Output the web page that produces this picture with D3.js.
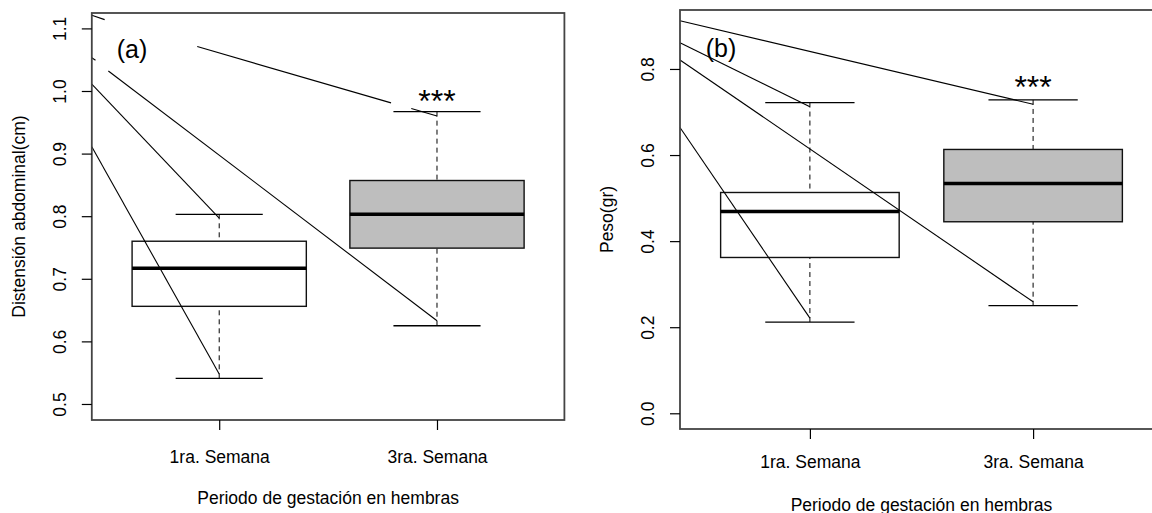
<!DOCTYPE html>
<html>
<head>
<meta charset="utf-8">
<script src="https://cdn.jsdelivr.net/npm/d3@7"></script>
<style>
body { margin: 0; background: #fff; }
text { font-family: "Liberation Sans", Arial, sans-serif; fill: #000; }
</style>
</head>
<body>
<svg id="chart" width="1152" height="513"></svg>
<script>
const groups = ['1ra. Semana', '3ra. Semana'];
const boxFills = ['#ffffff', '#bebebe'];

// min, q1, median, q3, max for each group
const distStats = [
	[0.541, 0.656, 0.717, 0.760, 0.803],
	[0.625, 0.749, 0.803, 0.857, 0.967],
];
const pesoStats = [
	[0.212, 0.362, 0.469, 0.513, 0.722],
	[0.250, 0.445, 0.534, 0.613, 0.728],
];

const distTicks = [0.5, 0.6, 0.7, 0.8, 0.9, 1.0, 1.1];
const pesoTicks = [0.0, 0.2, 0.4, 0.6, 0.8];

// stray lines over the plots, visible pieces as [group position, value]
const distLines = [
	[[[0.415, 0.911], [1, 0.548]]],
	[[[0.415, 1.011], [1, 0.797]]],
	[[[0.415, 1.053], [0.432, 1.049]], [[0.491, 1.032], [2, 0.633]]],
	[[[0.415, 1.121], [0.474, 1.114]], [[0.899, 1.071], [1.789, 0.981]], [[1.882, 0.972], [2, 0.960]]],
];
const pesoLines = [
	[[[0.418, 0.912], [2, 0.718]]],
	[[[0.418, 0.861], [1, 0.712]]],
	[[[0.418, 0.821], [2, 0.259]]],
	[[[0.418, 0.664], [1, 0.221]]],
];

const svg = d3.select('#chart');

function drawPanel(p) {
	const x = d3.scaleLinear().domain(p.xDomain).range([p.left, p.right]);
	const y = d3.scaleLinear().domain(p.yDomain).range([p.bottom, p.top]);
	const g = svg.append('g');

	// boxes
	const box = g.selectAll('.box')
		.data(p.stats)
		.join('g')
		.attr('class', 'box');

	box.append('line') // lower whisker
		.attr('x1', (d, i) => x(i + 1)).attr('x2', (d, i) => x(i + 1))
		.attr('y1', d => y(d[0])).attr('y2', d => y(d[1]))
		.attr('stroke', '#000').attr('stroke-dasharray', '5,4');
	box.append('line') // upper whisker
		.attr('x1', (d, i) => x(i + 1)).attr('x2', (d, i) => x(i + 1))
		.attr('y1', d => y(d[4])).attr('y2', d => y(d[3]))
		.attr('stroke', '#000').attr('stroke-dasharray', '5,4');
	box.each(function (d, i) {
		d3.select(this).selectAll('.cap')
			.data([d[0], d[4]])
			.join('line')
			.attr('class', 'cap')
			.attr('x1', x(i + 1 - 0.2)).attr('x2', x(i + 1 + 0.2))
			.attr('y1', v => y(v)).attr('y2', v => y(v))
			.attr('stroke', '#000').attr('stroke-width', 1.3);
	});
	box.append('rect')
		.attr('x', (d, i) => x(i + 1 - 0.4))
		.attr('width', (d, i) => x(i + 1 + 0.4) - x(i + 1 - 0.4))
		.attr('y', d => y(d[3]))
		.attr('height', d => y(d[1]) - y(d[3]))
		.attr('fill', (d, i) => boxFills[i])
		.attr('stroke', '#111').attr('stroke-width', 1.4);
	box.append('line') // median
		.attr('x1', (d, i) => x(i + 1 - 0.4)).attr('x2', (d, i) => x(i + 1 + 0.4))
		.attr('y1', d => y(d[2])).attr('y2', d => y(d[2]))
		.attr('stroke', '#000').attr('stroke-width', 3.5);

	// stray lines
	g.selectAll('.stray')
		.data(p.lines.flat())
		.join('line')
		.attr('class', 'stray')
		.attr('x1', d => x(d[0][0])).attr('y1', d => y(d[0][1]))
		.attr('x2', d => x(d[1][0])).attr('y2', d => y(d[1][1]))
		.attr('stroke', '#000').attr('stroke-width', 1.1);

	// frame
	g.append('rect')
		.attr('x', p.left).attr('y', p.top)
		.attr('width', p.right - p.left).attr('height', p.bottom - p.top)
		.attr('fill', 'none').attr('stroke', '#444').attr('stroke-width', 1.8);

	// y axis
	const yAxis = g.append('g')
		.attr('transform', `translate(${p.left},0)`)
		.call(d3.axisLeft(y).tickValues(p.ticks).tickFormat(d3.format('.1f')).tickSize(10));
	yAxis.select('.domain').remove();
	yAxis.selectAll('.tick line').attr('stroke', '#000').attr('stroke-width', 1.2);
	yAxis.selectAll('.tick text')
		.attr('transform', 'rotate(-90)')
		.attr('x', 0).attr('y', -26).attr('dy', null)
		.attr('text-anchor', 'middle')
		.style('font-size', '17.5px');

	// x axis
	const xAxis = g.append('g')
		.attr('transform', `translate(0,${p.bottom})`)
		.call(d3.axisBottom(x).tickValues([1, 2]).tickFormat(d => groups[d - 1]).tickSize(10));
	xAxis.select('.domain').remove();
	xAxis.selectAll('.tick line').attr('stroke', '#000').attr('stroke-width', 1.2);
	xAxis.selectAll('.tick text')
		.attr('y', p.xLabelOffset).attr('dy', null)
		.style('font-size', '17.5px');

	// titles
	g.append('text')
		.attr('x', x(1.5))
		.attr('y', p.bottom + p.xTitleOffset)
		.attr('text-anchor', 'middle')
		.style('font-size', '17.5px')
		.text('Periodo de gestación en hembras');
	g.append('text')
		.attr('transform', `translate(${p.left - 67},${(p.top + p.bottom) / 2}) rotate(-90)`)
		.attr('text-anchor', 'middle')
		.style('font-size', '17.5px')
		.text(p.yTitle);

	// annotations
	g.append('text')
		.attr('x', x(p.tagPos[0])).attr('y', y(p.tagPos[1]))
		.attr('dy', '0.26em')
		.attr('text-anchor', 'middle')
		.style('font-size', '25px')
		.text(p.tag);
	g.append('text')
		.attr('x', x(p.starPos[0])).attr('y', y(p.starPos[1]))
		.attr('dy', '0.57em')
		.attr('text-anchor', 'middle')
		.style('font-size', '32px')
		.text('***');
}

drawPanel({
	left: 91.8, right: 564.4, top: 13, bottom: 420,
	xDomain: [0.415, 2.585], yDomain: [0.4744, 1.1246],
	stats: distStats, ticks: distTicks, lines: distLines,
	yTitle: 'Distensión abdominal(cm)',
	xLabelOffset: 42.5, xTitleOffset: 84,
	tag: '(a)', tagPos: [0.6, 1.063], starPos: [2, 0.996],
});

drawPanel({
	left: 680, right: 1163, top: 10, bottom: 429,
	xDomain: [0.418, 2.582], yDomain: [-0.0365, 0.937],
	stats: pesoStats, ticks: pesoTicks, lines: pesoLines,
	yTitle: 'Peso(gr)',
	xLabelOffset: 39.3, xTitleOffset: 82,
	tag: '(b)', tagPos: [0.602, 0.842], starPos: [2, 0.774],
});
</script>
</body>
</html>
